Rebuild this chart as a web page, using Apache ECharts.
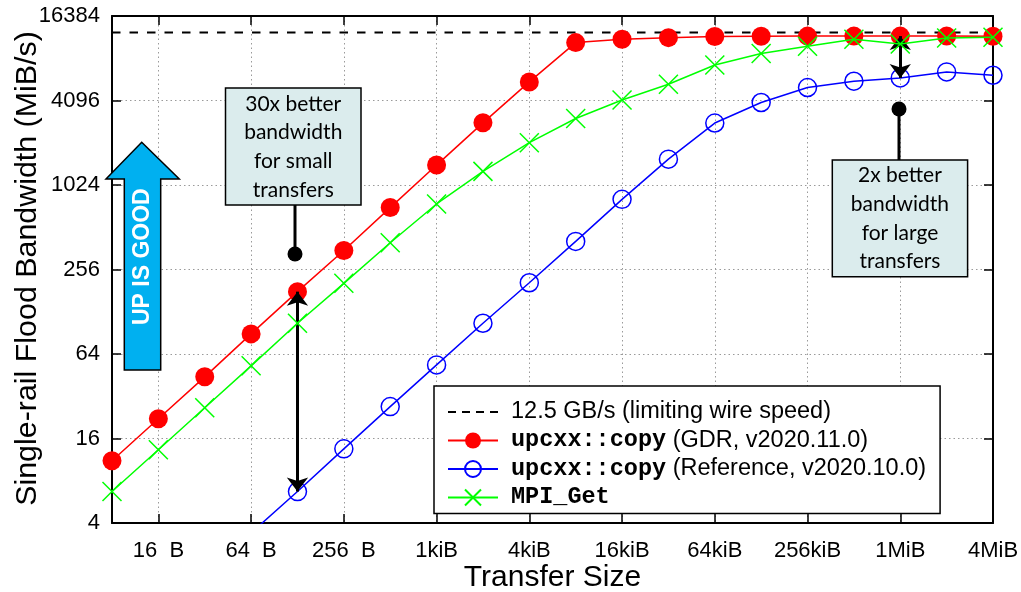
<!DOCTYPE html>
<html>
<head>
<meta charset="utf-8">
<script src="https://cdn.jsdelivr.net/npm/echarts@6/dist/echarts.min.js"></script>
<style>
  html, body { margin: 0; padding: 0; background: #fff; }
  #chart { width: 1021px; height: 592px; }
</style>
</head>
<body>
<div id="chart"></div>
<script>
// Transfer sizes in bytes (8 B .. 4 MiB)
const sizes = [8, 16, 32, 64, 128, 256, 512, 1024, 2048, 4096, 8192, 16384, 32768,
  65536, 131072, 262144, 524288, 1048576, 2097152, 4194304];
const sizeTicks = [16, 64, 256, 1024, 4096, 16384, 65536, 262144, 1048576, 4194304];
const sizeTickLabels = ['16  B', '64  B', '256  B', '1kiB', '4kiB', '16kiB', '64kiB', '256kiB', '1MiB', '4MiB'];
const bwTicks = [4, 16, 64, 256, 1024, 4096, 16384];

// Bandwidth in MiB/s
const wireSpeed = 12500;
const gdrCopy = [11.1, 22.1, 44, 89, 178, 350, 707, 1420, 2840, 5555, 10590, 11180, 11490,
  11700, 11740, 11780, 11780, 11780, 11780, 11750];
const refCopy = [null, null, null, 3.4, 6.7, 13.5, 27, 53.5, 106, 206, 406, 809, 1565,
  2830, 3965, 5068, 5620, 5930, 6545, 6200];
const mpiGet = [6.7, 13.3, 26.5, 52.7, 106, 204, 397, 750, 1280, 2050, 3050, 4130, 5350,
  7340, 8846, 9975, 11180, 10350, 11420, 11550];

const seriesNames = [
  '12.5 GB/s (limiting wire speed)',
  'upcxx::copy (GDR, v2020.11.0)',
  'upcxx::copy (Reference, v2020.10.0)',
  'MPI_Get'
];
const legendText = {
  [seriesNames[0]]: '{n|12.5 GB/s (limiting wire speed)}',
  [seriesNames[1]]: '{m|upcxx::copy}{n| (GDR, v2020.11.0)}',
  [seriesNames[2]]: '{m|upcxx::copy}{n| (Reference, v2020.10.0)}',
  [seriesNames[3]]: '{m|MPI_Get}'
};
// dashed-line key for the wire speed entry
const dashIcon = 'path://M0,0h8v2h-8zM14,0h8v2h-8zM28,0h8v2h-8zM42,0h8v2h-8z';

const pairs = arr => sizes.map((s, i) => [s, arr[i]]).filter(p => p[1] != null);

function tickIndex(list, v) {
  return list.findIndex(t => Math.abs(Math.log2(t) - Math.log2(v)) < 1e-6);
}

const SANS = 'Liberation Sans';
const tickLine = { color: '#000', width: 1.5 };
const gridLine = { color: '#9a9a9a', width: 1, type: [1.5, 3] };

const chart = echarts.init(document.getElementById('chart'), null, { renderer: 'canvas' });

chart.setOption({
  animation: false,
  backgroundColor: '#fff',
  grid: { left: 112, right: 28, top: 16, bottom: 69, containLabel: false, outerBoundsMode: 'none' },
  xAxis: [{
    type: 'log', logBase: 2, min: 8, max: 4194304, position: 'bottom',
    name: 'Transfer Size', nameLocation: 'middle', nameGap: 40, nameMoveOverlap: false,
    nameTextStyle: { fontFamily: SANS, fontSize: 30, color: '#000' },
    axisLine: { show: true, onZero: false, lineStyle: { color: '#000', width: 2 } },
    axisTick: { show: true, inside: true, length: 9, lineStyle: tickLine, customValues: sizeTicks },
    axisLabel: {
      show: true, customValues: sizeTicks, margin: 17,
      fontFamily: SANS, fontSize: 22, color: '#000',
      formatter: v => { const i = tickIndex(sizeTicks, v); return i >= 0 ? sizeTickLabels[i] : ''; }
    },
    splitLine: { show: true, lineStyle: gridLine },
    minorTick: { show: false }
  }, {
    type: 'log', logBase: 2, min: 8, max: 4194304, position: 'top',
    axisLine: { show: true, onZero: false, lineStyle: { color: '#000', width: 2 } },
    axisTick: { show: true, inside: true, length: 9, lineStyle: tickLine, customValues: sizeTicks },
    axisLabel: { show: false, customValues: sizeTicks },
    splitLine: { show: false }
  }],
  yAxis: [{
    type: 'log', logBase: 2, min: 4, max: 16384, position: 'left',
    name: 'Single-rail Flood Bandwidth (MiB/s)', nameLocation: 'middle', nameGap: 69, nameMoveOverlap: false,
    nameTextStyle: { fontFamily: SANS, fontSize: 30.4, color: '#000', padding: [0, 0, 0, 2] },
    axisLine: { show: true, onZero: false, lineStyle: { color: '#000', width: 2 } },
    axisTick: { show: true, inside: true, length: 9, lineStyle: tickLine, customValues: bwTicks },
    axisLabel: {
      show: true, customValues: bwTicks, margin: 12,
      fontFamily: SANS, fontSize: 22, color: '#000',
      formatter: v => String(Math.round(v))
    },
    splitLine: { show: true, lineStyle: gridLine }
  }, {
    type: 'log', logBase: 2, min: 4, max: 16384, position: 'right',
    axisLine: { show: true, onZero: false, lineStyle: { color: '#000', width: 2 } },
    axisTick: { show: true, inside: true, length: 9, lineStyle: tickLine, customValues: bwTicks },
    axisLabel: { show: false, customValues: bwTicks },
    splitLine: { show: false }
  }],
  legend: {
    orient: 'vertical', left: 434, top: 386,
    backgroundColor: '#fff', borderColor: '#000', borderWidth: 1.5, borderRadius: 0,
    padding: [14, 14, 4, 13], itemGap: 4.5, itemWidth: 50, itemHeight: 20,
    selectedMode: false,
    data: [
      { name: seriesNames[0], icon: dashIcon },
      seriesNames[1], seriesNames[2], seriesNames[3]
    ],
    formatter: name => legendText[name],
    textStyle: {
      fontFamily: SANS, fontSize: 23.5, color: '#000', padding: [0, 0, 0, 8],
      rich: {
        m: { fontFamily: 'Liberation Mono', fontWeight: 'bold', fontSize: 23.5, color: '#000' },
        n: { fontFamily: SANS, fontSize: 23.5, color: '#000' }
      }
    }
  },
  series: [{
    name: seriesNames[0], type: 'line',
    data: [[sizes[0], wireSpeed], [sizes[sizes.length - 1], wireSpeed]],
    symbol: 'none', showSymbol: false, silent: true,
    itemStyle: { color: '#000' },
    lineStyle: { color: '#000', width: 2, type: [8.5, 9] },
    z: 2
  }, {
    name: seriesNames[1], type: 'line', data: pairs(gdrCopy),
    symbol: 'circle', symbolSize: 19,
    itemStyle: { color: '#ff0000' },
    lineStyle: { color: '#ff0000', width: 1.5 },
    z: 3
  }, {
    name: seriesNames[2], type: 'line', data: pairs(refCopy),
    symbol: 'circle', symbolSize: 18,
    itemStyle: { color: 'rgba(0,0,0,0)', borderColor: '#0000ff', borderWidth: 1.5 },
    lineStyle: { color: '#0000ff', width: 1.5 },
    z: 4
  }, {
    name: seriesNames[3], type: 'line', data: pairs(mpiGet),
    symbol: 'path://M0,0L20,20M20,0L0,20', symbolSize: 19,
    itemStyle: { color: 'rgba(0,0,0,0)', borderColor: '#00ff00', borderWidth: 1.5 },
    lineStyle: { color: '#00ff00', width: 1.5 },
    z: 5,
    markLine: {
      silent: true, symbol: ['arrow', 'arrow'], symbolSize: [16, 14],
      label: { show: false },
      lineStyle: { color: '#000', width: 3, type: 'solid' },
      data: [
        [{ coord: [sizes[4], gdrCopy[4]] }, { coord: [sizes[4], refCopy[4]] }],
        [{ coord: [sizes[17], gdrCopy[17]] }, { coord: [sizes[17], refCopy[17]] }]
      ]
    }
  }]
});

// Annotations: "UP IS GOOD" arrow and the two callout boxes
const boxFont = '21px Lato';
function callout(x, y, w, h, lines, lineTop, lineStep) {
  const els = [{
    type: 'rect', shape: { x: x, y: y, width: w, height: h },
    style: { fill: '#dbeced', stroke: '#000', lineWidth: 1.5 }, z: 20
  }];
  lines.forEach((t, i) => els.push({
    type: 'text', x: x + w / 2, y: lineTop + i * lineStep, z: 21,
    style: { text: t, font: boxFont, fill: '#000', align: 'center', verticalAlign: 'middle' }
  }));
  return els;
}
const graphics = [
  {
    type: 'polygon', z: 20,
    shape: { points: [[141.7, 142.3], [179.3, 179], [160.7, 179], [160.7, 370], [124.3, 370], [124.3, 179], [106, 179]] },
    style: { fill: '#00b0f0', stroke: '#000', lineWidth: 1.5 }
  },
  {
    type: 'text', x: 142.7, y: 256.7, rotation: Math.PI / 2, z: 21,
    style: { text: 'UP IS GOOD', font: 'bold 23px Liberation Sans', fill: '#fff', align: 'center', verticalAlign: 'middle' }
  },
  ...callout(225.5, 88, 135.5, 117, ['30x better', 'bandwidth', 'for small', 'transfers'], 104, 28.7),
  { type: 'line', z: 19, shape: { x1: 295, y1: 205, x2: 295, y2: 254 }, style: { stroke: '#000', lineWidth: 3 } },
  { type: 'circle', z: 19, shape: { cx: 295, cy: 254, r: 7.5 }, style: { fill: '#000' } },
  ...callout(832.3, 160, 135.3, 116.7, ['2x better', 'bandwidth', 'for large', 'transfers'], 175.5, 28.7),
  { type: 'line', z: 19, shape: { x1: 899, y1: 109, x2: 899, y2: 160 }, style: { stroke: '#000', lineWidth: 3 } },
  { type: 'circle', z: 19, shape: { cx: 899, cy: 109, r: 7.5 }, style: { fill: '#000' } }
];
chart.setOption({ graphic: graphics });
</script>
</body>
</html>
